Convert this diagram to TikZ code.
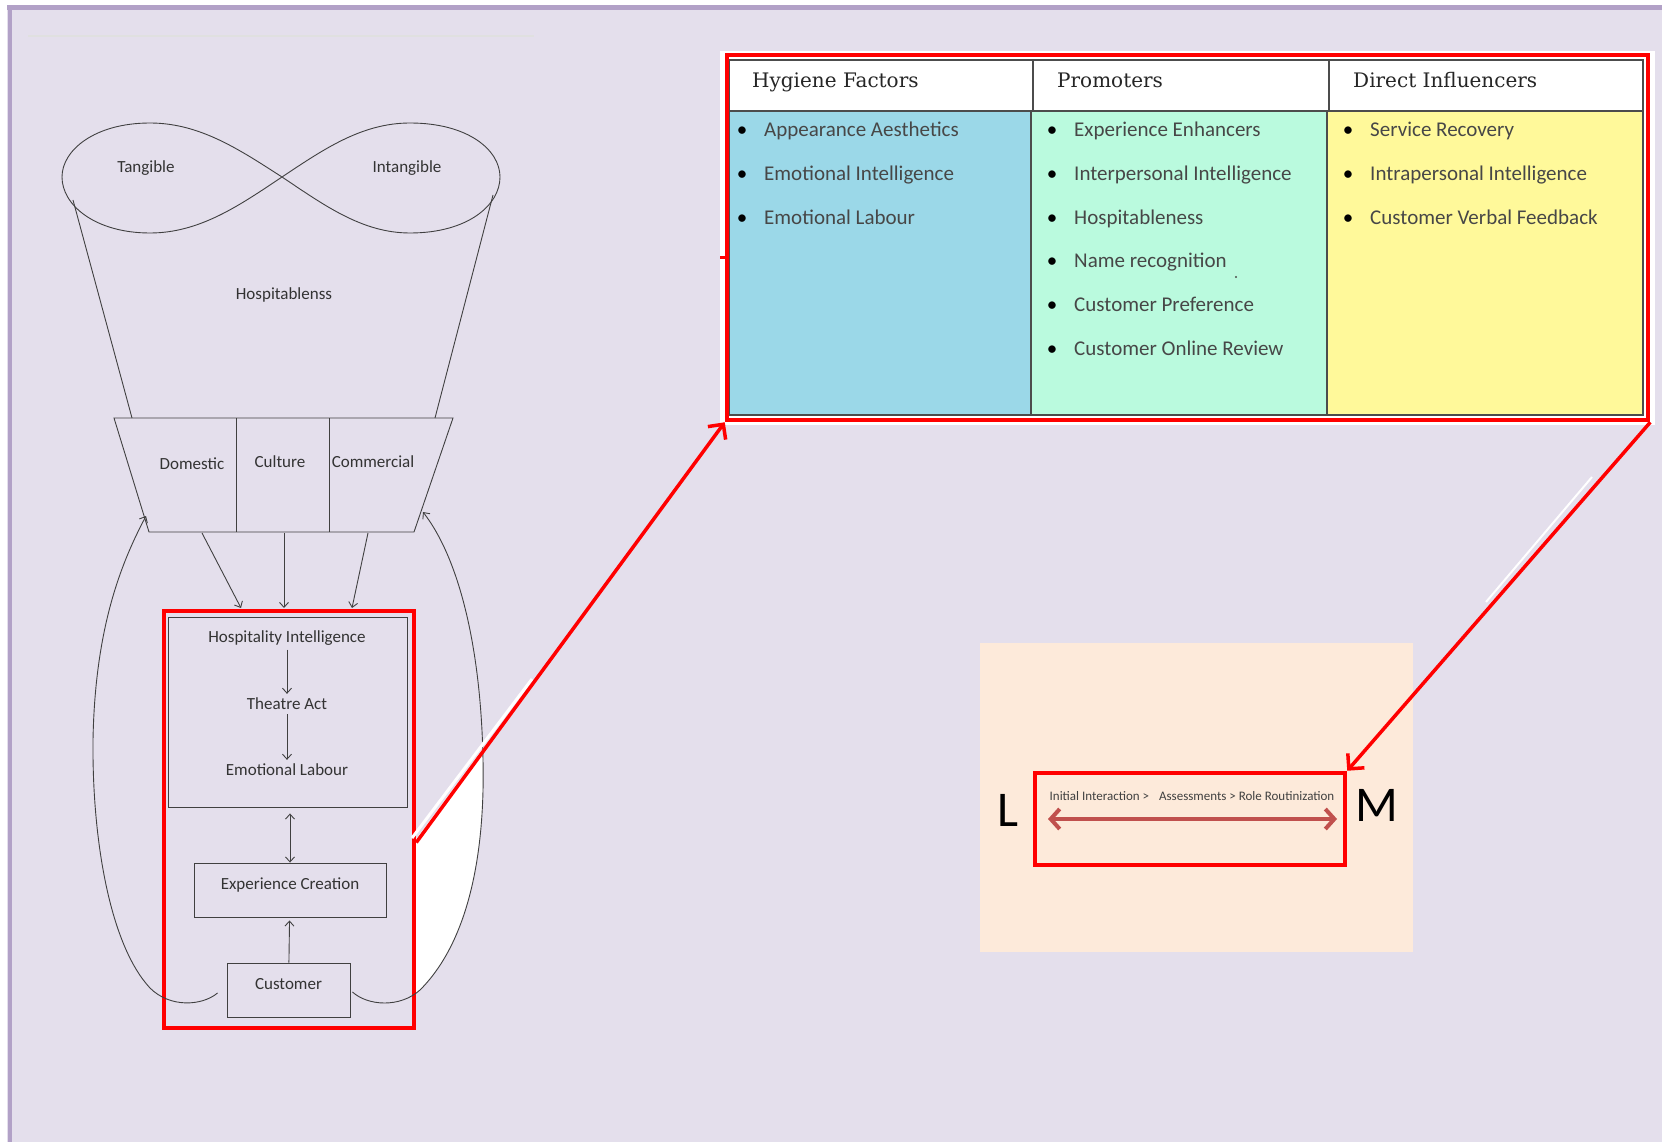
\documentclass[tikz,border=0pt]{standalone}
\usepackage{fontspec}
\setmainfont{Carlito}
\newfontfamily\headfont{DejaVu Serif}
\usepackage{tikz}
\usetikzlibrary{calc, positioning, arrows.meta}

\definecolor{bglav}{RGB}{228,223,236}
\definecolor{framelav}{RGB}{178,161,199}
\definecolor{inkgray}{RGB}{64,64,64}
\definecolor{hygblue}{RGB}{155,216,232}
\definecolor{promint}{RGB}{186,250,222}
\definecolor{dirylw}{RGB}{255,249,154}
\definecolor{peach}{RGB}{253,234,218}
\definecolor{arrowred}{RGB}{192,80,77}

\tikzset{
  ink/.style={draw=inkgray, line width=0.9pt},
  flow/.style={-{Straight Barb[length=5pt,width=9pt]}},
  flowboth/.style={{Straight Barb[length=5pt,width=9pt]}-{Straight Barb[length=5pt,width=9pt]}},
  lbl/.style={text=black!80, font=\fontsize{17}{20}\selectfont, inner sep=4pt},
  boxlbl/.style={lbl, draw=inkgray, line width=0.9pt, text height=11pt, text depth=12pt},
  redframe/.style={draw=red, line width=4.5pt},
  redarrow/.style={red, line width=3.5pt, -{Straight Barb[length=11pt,width=22pt]}},
  item/.style={anchor=base west, text=black!72, font=\fontsize{21}{24}\selectfont, inner sep=0pt},
  headtxt/.style={anchor=base west, text=black!85, font=\headfont\fontsize{20}{24}\selectfont, inner sep=0pt},
  gridline/.style={draw=black!70, line width=1.4pt},
}

\begin{document}
\begin{tikzpicture}[x=1pt, y=-1pt]
  \useasboundingbox (0,0) rectangle (1662,1142);
  \fill[white] (0,0) rectangle (1662,1142);
  \fill[bglav] (7,5) rectangle (1662,1142);
  \draw[framelav, line width=5pt] (7,8) -- (1662,8);
  \draw[framelav, line width=4pt] (9.5,6) -- (9.5,1142);
  \draw[black!12, line width=1.5pt] (28,36) -- (534,36);

  % white patch beside the focus box
  \begin{scope}
    \clip (414,842) -- (490,739) -- (495,739) -- (495,1010) -- (414,1010) -- cycle;
    \fill[white] (352,992) .. controls (368,1006) and (400,1008) .. (420,990)
      .. controls (470,940) and (485,850) .. (483,760)
      .. controls (481,650) and (460,560) .. (423,512) -- cycle;
  \end{scope}

  % tangible / intangible loops
  \draw[ink] (282,177) .. controls (240,150) and (200,123) .. (150,123)
    .. controls (95,123) and (62,150) .. (62,177)
    .. controls (62,205) and (95,233) .. (150,233)
    .. controls (200,233) and (240,205) .. (282,177)
    .. controls (324,149) and (362,123) .. (410,123)
    .. controls (468,123) and (500,150) .. (500,177)
    .. controls (500,205) and (468,233) .. (410,233)
    .. controls (362,233) and (324,205) .. (282,177);
  \node[lbl] (tangible) at (146,168) {Tangible};
  \node[lbl] (intangible) at (407,168) {Intangible};

  \draw[ink] (73,200) -- (132,418);
  \draw[ink] (493,195) -- (435,418);
  \node[lbl] (hospness) at (284,295) {Hospitablenss};

  % domestic / culture / commercial
  \draw[ink] (114,418) -- (453,418) -- (414,532) -- (149,532) -- cycle;
  \draw[ink] (236,418) -- (236,532);
  \draw[ink] (329,418) -- (329,532);
  \node[lbl] (domestic) at (192,464) {Domestic};
  \node[lbl] (culture) at (280,462) {Culture};
  \node[lbl] (commercial) at (373,462) {Commercial};
  \coordinate (dom out) at (202,533);
  \coordinate (cul out) at (284,533);
  \coordinate (com out) at (368,533);
  \coordinate (dom back) at (146,516);
  \coordinate (com back) at (423,512);

  % focus box
  \node[redframe, minimum width=250pt, minimum height=417pt] (focus) at (289,819.5) {};
  \coordinate (hi in1) at (241,608);
  \coordinate (hi in2) at (284,608);
  \coordinate (hi in3) at (352,608);
  \draw[ink, flow] (dom out) -- (hi in1);
  \draw[ink, flow] (cul out) -- (hi in2);
  \draw[ink, flow] (com out) -- (hi in3);

  \node[draw=inkgray, line width=0.9pt, minimum width=239pt, minimum height=190pt] (hibox) at (287.5,712) {};
  \node[lbl] (hosp) at (287,638) {Hospitality Intelligence};
  \node[lbl] (theatre) at (287,704) {Theatre Act};
  \node[lbl] (emolab) at (287,770) {Emotional Labour};
  \draw[ink, flow] (hosp) -- (theatre);
  \draw[ink, flow] (theatre) -- (emolab);

  \node[boxlbl, minimum width=192pt, minimum height=54pt] (expcr) at (290,890) {Experience Creation};
  \node[boxlbl, minimum width=123pt, minimum height=54pt] (cust) at (288.5,990) {Customer};
  \draw[ink, flowboth, shorten <=6pt] (hibox.south -| expcr) -- (expcr.north);
  \draw[ink, flow, shorten >=3pt] (cust) -- (expcr);

  \draw[ink, flow] ($(cust.west)+(-9,3)$) .. controls (202,1006) and (170,1008) .. (150,988)
    .. controls (110,945) and (92,840) .. (93,740)
    .. controls (95,630) and (120,565) .. (dom back);
  \draw[ink, flow] ($(cust.east)+(2,2)$) .. controls (368,1006) and (400,1008) .. (420,990)
    .. controls (470,940) and (485,850) .. (483,760)
    .. controls (481,650) and (460,560) .. (com back);

  % factor table
  \fill[white] (720,51) rectangle (1655,425);
  \fill[white] (729,60) rectangle (1643,111);
  \fill[hygblue] (729,111) rectangle (1031,415);
  \fill[promint] (1031,111) rectangle (1327,415);
  \fill[dirylw] (1327,111) rectangle (1643,415);
  \draw[gridline] (729,60) rectangle (1643,415);
  \draw[gridline] (729,111) -- (1643,111);
  \draw[gridline] (1033,60) -- (1033,111);
  \draw[gridline] (1031,111) -- (1031,415);
  \draw[gridline] (1329,60) -- (1329,111);
  \draw[gridline] (1327,111) -- (1327,415);

  \node[headtxt] (hyghead) at (752,88) {Hygiene Factors};
  \node[headtxt] (prohead) at (1057,88) {Promoters};
  \node[headtxt] (dirhead) at (1353,88) {Direct Influencers};

  \foreach \txt [count=\i from 0] in {Appearance Aesthetics, Emotional Intelligence, Emotional Labour}
    \node[item] (hyg\i) at (764,{137+43.6*\i}) {\llap{\textcolor{black}{\textbullet}\hspace{17pt}}\txt};
  \foreach \txt [count=\i from 0] in {Experience Enhancers, Interpersonal Intelligence, Hospitableness,
      Name recognition, Customer Preference, Customer Online Review}
    \node[item] (pro\i) at (1074,{137+43.6*\i}) {\llap{\textcolor{black}{\textbullet}\hspace{17pt}}\txt};
  \foreach \txt [count=\i from 0] in {Service Recovery, Intrapersonal Intelligence, Customer Verbal Feedback}
    \node[item] (dir\i) at (1370,{137+43.6*\i}) {\llap{\textcolor{black}{\textbullet}\hspace{17pt}}\txt};
  \fill[black!70] (1236,277) circle[radius=1.2pt];

  \node[redframe, minimum width=921pt, minimum height=365pt] (tabframe) at (1187.5,237.5) {};
  \draw[red, line width=3pt] (720,257) -- (727,257);

  % L to M panel
  \fill[peach] (980,643) rectangle (1413,952);
  \node[redframe, minimum width=310pt, minimum height=92pt] (lmbox) at (1190,819) {};
  \node[font=\fontsize{50}{56}\selectfont, inner sep=0pt] (lowend) at (1008,810) {L};
  \node[font=\fontsize{50}{56}\selectfont, inner sep=0pt] (highend) at (1377,805) {M};
  \node[text=black!75, font=\fontsize{13}{15}\selectfont, inner sep=0pt] (stages) at (1192,796)
    {Initial Interaction >\hspace{10pt}Assessments > Role Routinization};
  \coordinate (lmleft) at (1048,819);
  \coordinate (lmright) at (1337,819);
  \draw[arrowred, line width=4pt, {Straight Barb[length=9pt,width=20pt]}-{Straight Barb[length=9pt,width=20pt]}] (lmleft) -- (lmright);

  % zoom arrows
  \draw[white, line width=3pt] (412,838) -- (532,679);
  \draw[white, line width=2pt] (1486,602) -- (1592,477);
  \draw[redarrow] ($(focus.east)+(0,23)$) -- (tabframe.south west);
  \draw[redarrow] (tabframe.south east) -- (lmbox.north east);
\end{tikzpicture}
\end{document}
